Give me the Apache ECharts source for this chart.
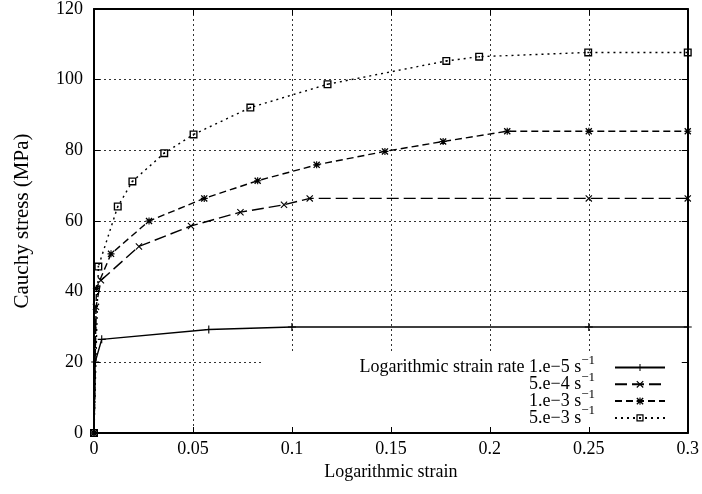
<!DOCTYPE html>
<html>
<head>
<meta charset="utf-8">
<script src="https://cdn.jsdelivr.net/npm/echarts@6/dist/echarts.min.js"></script>
<style>
  html, body { margin: 0; padding: 0; background: #fff; }
  #chart { width: 702px; height: 494px; }
</style>
</head>
<body>
<div id="chart"></div>
<script>
// strain rate 1.e-5 s^-1
var strain1 = [0, 0.0006, 0.0039, 0.058, 0.1, 0.25, 0.3];
var stress1 = [0, 20.1, 26.5, 29.3, 30, 30, 30];
// 5.e-4 s^-1
var strain2 = [0, 0.001, 0.0035, 0.0227, 0.049, 0.074, 0.096, 0.109, 0.25, 0.3];
var stress2 = [0, 35.7, 43.2, 52.8, 58.6, 62.5, 64.6, 66.4, 66.4, 66.4];
// 1.e-3 s^-1
var strain3 = [0, 0.0012, 0.0086, 0.0278, 0.0557, 0.0827, 0.1125, 0.147, 0.1764, 0.2088, 0.25, 0.3];
var stress3 = [0, 40.9, 50.7, 60.0, 66.4, 71.4, 75.9, 79.7, 82.5, 85.4, 85.4, 85.4];
// 5.e-3 s^-1
var strain4 = [0, 0.0022, 0.012, 0.0194, 0.0355, 0.0503, 0.079, 0.118, 0.178, 0.1946, 0.2497, 0.3];
var stress4 = [0, 47.1, 64.1, 71.2, 79.2, 84.5, 92.1, 98.7, 105.3, 106.5, 107.7, 107.7];

var rateLabels = ["Logarithmic strain rate 1.e\u22125 s", "5.e\u22124 s", "1.e\u22123 s", "5.e\u22123 s"];
var xRange = [0, 0.3, 0.05];
var yRange = [0, 120, 20];

var font = "Liberation Serif";

// gnuplot-like point types
var plusSymbol = "path://M4.3,0H5.7V10H4.3Z M0,4.3H10V5.7H0Z";
var crossSymbol = "path://M0,1.1L1.1,0L10,8.9L8.9,10Z M8.9,0L10,1.1L1.1,10L0,8.9Z";
var starSymbol = "path://M4.2,0H5.8V10H4.2Z M0,4.2H10V5.8H0Z M0,1.3L1.3,0L10,8.7L8.7,10Z M8.7,0L10,1.3L1.3,10L0,8.7Z";
var boxSymbol = "path://M0,0H10V10H0Z M1.7,1.7V8.3H8.3V1.7Z M4,4H6V6H4Z";

function pairs(xs, ys) {
  return xs.map(function (x, i) {
    return [x, ys[i]];
  });
}

function makeSeries(name, xs, ys, symbol, dash, size) {
  return {
    name: name,
    type: "line",
    data: pairs(xs, ys),
    symbol: symbol,
    symbolSize: size,
    showAllSymbol: true,
    lineStyle: { color: "#000", width: 1.4, type: dash },
    itemStyle: { color: "#000" },
    emphasis: { disabled: true },
    clip: false
  };
}

var axisLine = { show: true, onZero: false, lineStyle: { color: "#000", width: 2 } };
var axisTick = { show: true, inside: true, length: 6, lineStyle: { color: "#000", width: 1 } };
var gridLine = { show: true, lineStyle: { color: "#333", width: 1, type: [2, 3] } };

var myChart = echarts.init(document.getElementById("chart"));
myChart.setOption({
  animation: false,
  backgroundColor: "#fff",
  textStyle: { fontFamily: font, color: "#000" },
  grid: { left: 94, right: 14, top: 8, bottom: 61 },
  xAxis: [
    {
      type: "value",
      position: "bottom",
      z: 10,
      min: xRange[0],
      max: xRange[1],
      interval: xRange[2],
      axisLine: axisLine,
      axisTick: axisTick,
      axisLabel: { color: "#000", fontSize: 18, margin: 7, fontFamily: font },
      splitLine: { show: false },
      name: "Logarithmic strain",
      nameLocation: "middle",
      nameGap: 28,
      nameTextStyle: { color: "#000", fontSize: 18, fontFamily: font }
    },
    {
      // top frame edge, also carries the vertical grid (kept under the key box)
      type: "value",
      position: "top",
      min: xRange[0],
      max: xRange[1],
      interval: xRange[2],
      axisLine: axisLine,
      axisTick: axisTick,
      axisLabel: { show: false },
      splitLine: gridLine
    }
  ],
  yAxis: [
    {
      type: "value",
      position: "left",
      min: yRange[0],
      max: yRange[1],
      interval: yRange[2],
      axisLine: axisLine,
      axisTick: axisTick,
      axisLabel: { color: "#000", fontSize: 18, margin: 11, fontFamily: font },
      splitLine: gridLine,
      name: "Cauchy stress (MPa)",
      nameLocation: "middle",
      nameGap: 61,
      nameTextStyle: { color: "#000", fontSize: 21, fontFamily: font }
    },
    {
      type: "value",
      position: "right",
      z: 10,
      min: yRange[0],
      max: yRange[1],
      interval: yRange[2],
      axisLine: axisLine,
      axisTick: axisTick,
      axisLabel: { show: false },
      splitLine: { show: false }
    }
  ],
  legend: {
    orient: "vertical",
    align: "right",
    right: 14,
    top: 354,
    padding: [0, 22, 0, 98],
    itemGap: -10.2,
    itemWidth: 50,
    itemHeight: 9,
    backgroundColor: "#fff",
    selectedMode: false,
    data: rateLabels,
    formatter: function (name) {
      return "{t|" + name + "}{s|\u22121}";
    },
    textStyle: {
      color: "#000",
      fontFamily: font,
      rich: {
        t: { fontSize: 18, lineHeight: 16, fontFamily: font, color: "#000" },
        s: { fontSize: 13, lineHeight: 2, padding: [0, 15, 14, 0], fontFamily: font, color: "#000" }
      }
    }
  },
  series: [
    makeSeries(rateLabels[0], strain1, stress1, plusSymbol, "solid", 8),
    makeSeries(rateLabels[1], strain2, stress2, crossSymbol, [12, 5], 7),
    makeSeries(rateLabels[2], strain3, stress3, starSymbol, [7, 4], 7),
    makeSeries(rateLabels[3], strain4, stress4, boxSymbol, [2, 4], 8)
  ]
});
</script>
</body>
</html>
